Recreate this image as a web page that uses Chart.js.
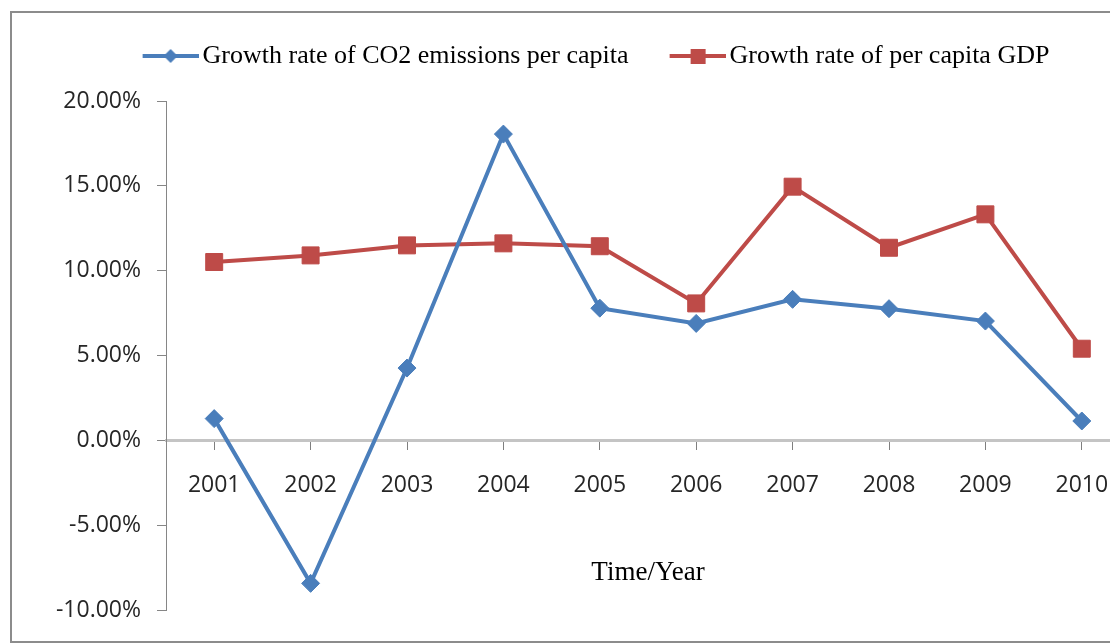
<!DOCTYPE html>
<html>
<head>
<meta charset="utf-8">
<script src="https://cdn.jsdelivr.net/npm/chart.js@4.4.1/dist/chart.umd.min.js"></script>
<style>
  html, body { margin: 0; padding: 0; background: #fff; overflow: hidden; }
  #wrap { position: relative; width: 1150px; height: 643px; }
  #frame { position: absolute; left: 10px; top: 11px; width: 1200px; height: 628px;
           border: 2px solid #8c8c8c; pointer-events: none; }
</style>
</head>
<body>
<div id="wrap">
  <canvas id="growthChart" width="1150" height="643"></canvas>
  <div id="frame"></div>
</div>
<script>
const years = ['2001', '2002', '2003', '2004', '2005', '2006', '2007', '2008', '2009', '2010'];
// growth rates, in percent
const co2Growth = [1.28, -8.43, 4.26, 18.05, 7.79, 6.89, 8.31, 7.76, 7.03, 1.14];
const gdpGrowth = [10.51, 10.90, 11.49, 11.61, 11.44, 8.07, 14.95, 11.35, 13.32, 5.40];
const yMin = -10;
const yMax = 20;
const yStep = 5;

const blue = '#4a7ebb';
const red = '#be4b48';

// line-with-marker swatch for the legend (transparent on the left, line on the right)
function legendMark(color, shape) {
  const c = document.createElement('canvas');
  c.width = 96;
  c.height = 20;
  const g = c.getContext('2d');
  g.strokeStyle = color;
  g.fillStyle = color;
  g.lineWidth = 4;
  g.beginPath();
  g.moveTo(40, 10);
  g.lineTo(96, 10);
  g.stroke();
  g.beginPath();
  if (shape === 'diamond') {
    g.moveTo(68, 3); g.lineTo(75, 10); g.lineTo(68, 17); g.lineTo(61, 10);
  } else {
    g.rect(61, 3, 15, 15);
  }
  g.closePath();
  g.fill();
  return c;
}
const legendMarks = [legendMark(blue, 'diamond'), legendMark(red, 'square')];

// give the legend a fixed height so the plot starts where it should
const legendHeight = {
  id: 'legendHeight',
  beforeLayout(chart) {
    const legend = chart.legend;
    if (legend && !legend.fitWrapped) {
      const fit = legend.fit;
      legend.fit = function () {
        fit.call(this);
        this.height = 68;
      };
      legend.fitWrapped = true;
    }
  }
};

const ctx = document.getElementById('growthChart');

new Chart(ctx, {
  type: 'line',
  data: {
    labels: years,
    datasets: [{
      label: 'Growth rate of CO2 emissions per capita',
      data: co2Growth,
      borderColor: blue,
      backgroundColor: blue,
      borderWidth: 4,
      tension: 0,
      pointStyle: 'rectRot',
      pointRadius: 9,
      pointBorderWidth: 1
    }, {
      label: 'Growth rate of per capita GDP',
      data: gdpGrowth,
      borderColor: red,
      backgroundColor: red,
      borderWidth: 4,
      tension: 0,
      pointStyle: 'rect',
      pointRadius: 12,
      pointBorderWidth: 1
    }]
  },
  options: {
    responsive: false,
    animation: false,
    layout: {
      padding: { left: 31, right: 20, top: 33, bottom: 33 }
    },
    plugins: {
      tooltip: { enabled: false },
      legend: {
        position: 'top',
        align: 'center',
        labels: {
          usePointStyle: true,
          pointStyleWidth: 78,
          padding: 10,
          color: '#000',
          font: { family: 'Liberation Serif', size: 26 },
          generateLabels(chart) {
            const items = Chart.defaults.plugins.legend.labels.generateLabels(chart);
            items.forEach((item, i) => { item.pointStyle = legendMarks[i]; });
            return items;
          }
        }
      }
    },
    scales: {
      x: {
        position: { y: 0 },
        offset: true,
        border: { color: '#c4c4c4', width: 3 },
        grid: { drawOnChartArea: false, tickLength: 8, color: '#7f7f7f' },
        ticks: {
          padding: 23,
          color: '#262626',
          font: { family: 'Open Sans', size: 23 }
        },
        title: {
          display: true,
          text: 'Time/Year',
          color: '#000',
          padding: { top: 35, bottom: 0 },
          font: { family: 'Liberation Serif', size: 27 }
        }
      },
      y: {
        min: yMin,
        max: yMax,
        afterFit(scale) { scale.width = 135; },
        border: { color: '#868686', width: 1 },
        grid: { drawOnChartArea: false, tickLength: 9, color: '#868686' },
        ticks: {
          stepSize: yStep,
          padding: 16,
          color: '#262626',
          font: { family: 'Open Sans', size: 23 },
          callback: (v) => v.toFixed(2) + '%'
        }
      }
    }
  },
  plugins: [legendHeight]
});
</script>
</body>
</html>
